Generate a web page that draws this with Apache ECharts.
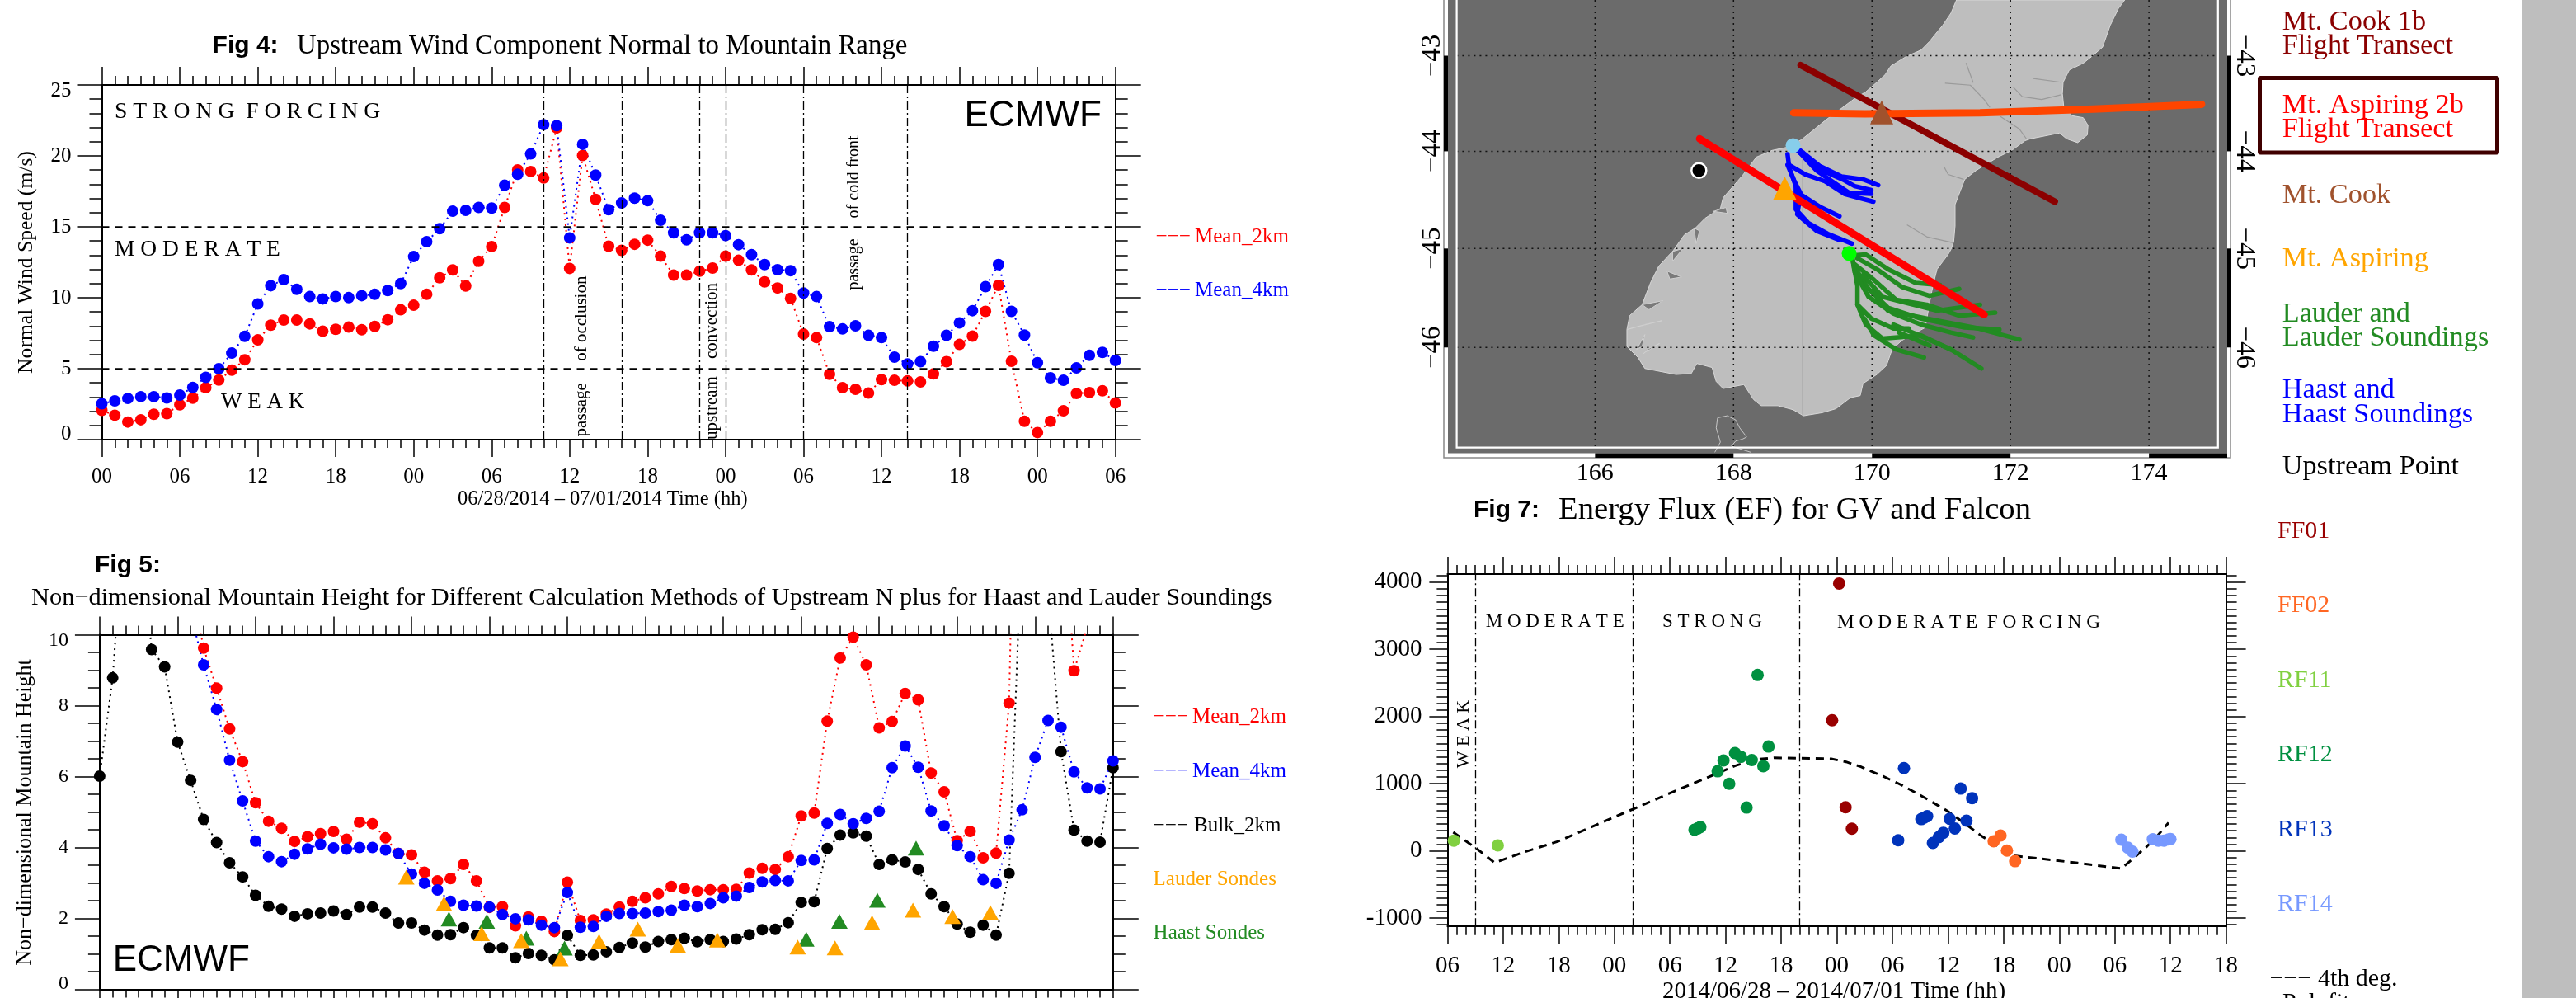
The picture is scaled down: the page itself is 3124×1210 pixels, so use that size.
<!DOCTYPE html>
<html><head><meta charset="utf-8">
<style>html,body{margin:0;padding:0;background:#fff}#c{width:3124px;height:1210px}</style>
<script src="https://cdn.jsdelivr.net/npm/echarts@6/dist/echarts.min.js"></script>
</head><body><div id="c"></div>
<script>
const hourLabels4=['00','06','12','18','00','06','12','18','00','06','12','18','00','06'];
const hourLabels7=['06','12','18','00','06','12','18','00','06','12','18','00','06','12','18'];
const windMean2km=[2.06,1.72,1.24,1.4,1.79,1.83,2.46,2.92,3.66,4.2,4.9,5.63,7.03,8.07,8.43,8.43,8.16,7.64,7.78,7.93,7.75,7.98,8.45,9.15,9.47,10.24,11.41,11.96,10.83,12.57,13.61,16.37,19.01,18.9,18.44,21.97,12.07,20.03,16.93,13.63,13.34,13.77,14.06,12.93,11.6,11.6,11.87,12.09,12.93,12.64,11.96,11.12,10.69,9.95,7.44,7.19,4.61,3.66,3.55,3.28,4.23,4.18,4.14,4.07,4.63,5.49,6.71,7.3,9.04,10.87,5.52,1.29,0.5,1.29,2.03,3.25,3.32,3.44,2.58];
const windMean4km=[2.53,2.73,2.9,3.03,3.03,2.94,3.14,3.68,4.39,5.0,6.1,7.28,9.56,10.85,11.28,10.6,10.08,9.92,10.08,10.01,10.15,10.24,10.51,11.0,12.9,13.95,14.87,16.1,16.16,16.37,16.32,17.93,18.7,20.14,22.2,22.13,14.22,20.82,18.65,16.2,16.68,17.02,16.84,15.46,14.58,14.08,14.58,14.58,14.38,13.74,13.04,12.34,11.98,11.91,10.33,10.08,7.96,7.8,8.02,7.35,7.19,5.81,5.33,5.49,6.58,7.35,8.23,9.09,10.78,12.34,9.04,7.37,5.42,4.36,4.18,5.06,5.94,6.15,5.58];
const forcingLevels4=[15,5];
const events4=[34,40,46,48,54,62];
const hmMean2km=[null,null,null,null,null,null,null,11.5,9.62,8.49,7.34,6.42,5.26,4.74,4.54,4.17,4.3,4.39,4.45,4.23,4.71,4.67,4.27,3.83,3.79,3.3,3.06,3.12,3.52,3.06,2.31,2.33,1.79,2.04,1.92,1.63,3.02,1.94,1.96,2.12,2.32,2.48,2.58,2.69,2.9,2.84,2.77,2.81,2.81,2.82,3.28,3.41,3.38,3.74,4.89,4.97,7.56,9.34,9.93,9.15,7.37,7.55,8.34,8.16,6.1,5.57,4.19,4.45,3.71,3.84,8.07,25,null,null,14.6,8.98,10.2,11,12];
const hmMean4km=[null,null,null,null,null,null,null,10.6,9.15,7.89,6.46,5.31,4.18,3.74,3.6,3.81,3.96,4.09,3.99,3.95,4.0,4.0,3.93,3.83,3.25,2.99,2.8,2.48,2.37,2.35,2.32,2.11,1.99,1.96,1.81,1.74,2.73,1.75,1.77,2.06,2.14,2.14,2.15,2.19,2.23,2.37,2.33,2.42,2.58,2.63,2.87,3.03,3.07,3.06,3.63,3.65,4.68,4.93,4.67,4.82,5.02,6.25,6.86,6.26,5.03,4.61,4.05,3.74,3.09,2.99,4.21,5.06,6.54,7.58,7.39,6.13,5.68,5.65,6.44];
const hmBulk2km=[6.01,8.78,14,13.2,9.58,9.09,6.97,5.89,4.79,4.14,3.57,3.17,2.65,2.34,2.26,2.06,2.13,2.15,2.21,2.11,2.32,2.32,2.15,1.87,1.87,1.67,1.53,1.54,1.74,1.52,1.17,1.17,0.89,1.01,0.96,0.83,1.52,0.96,0.97,1.06,1.18,1.31,1.19,1.35,1.4,1.44,1.34,1.4,1.35,1.42,1.54,1.68,1.69,1.88,2.45,2.47,3.97,4.35,4.41,4.32,3.52,3.65,3.59,3.38,2.69,2.33,1.84,1.61,1.81,1.53,3.27,13,null,11.2,6.7,4.49,4.18,4.15,6.25];
const lauderSondes=[[23.6,3.16],[26.5,2.41],[29.4,1.57],[32.45,1.37],[35.46,.86],[38.44,1.35],[41.42,1.7],[44.5,1.24],[47.54,1.39],[53.73,1.19],[56.6,1.17],[59.45,1.88],[62.6,2.23],[65.65,2.05],[68.56,2.16]];
const haastSondes=[[26.88,1.98],[29.8,1.92],[32.84,1.44],[35.78,1.16],[54.39,1.41],[56.94,1.92],[59.86,2.51],[62.84,3.98]];
const rf11=[[.69,153],[5.43,81]];
const rf12=[[26.65,315],[27.0,335],[27.28,354],[29.15,1185],[29.78,1347],[30.4,999],[31.02,1457],[31.65,1400],[32.27,645],[32.83,1352],[33.46,2618],[34.08,1261],[34.64,1553]];
const ff01=[[41.5,1945],[42.26,3980],[42.95,650],[43.63,330]];
const rf13=[[48.63,158],[49.25,1233],[51.12,473],[51.45,495],[51.75,516],[52.37,119],[53,205],[53.5,268],[54.18,478],[54.74,334],[55.37,927],[56,449],[56.6,784]];
const ff02=[[58.93,143],[59.67,229],[60.36,5],[61.24,-153]];
const rf14=[[72.7,167],[73.4,48],[73.9,-10],[76.1,172],[76.7,153],[77.3,153],[77.8,170],[78,177]];
const polyfit=[[.62,277],[3,50],[5.1,-177],[8,-30],[12,145],[16,385],[20,621],[24,860],[29,1146],[31,1265],[33.3,1362],[35.2,1385],[38,1380],[41.4,1371],[43,1325],[44.6,1252],[47,1110],[49,980],[51.5,790],[53.9,597],[55.8,410],[57.7,215],[59.5,60],[61.1,-72],[64,-115],[68,-180],[72.7,-263],[74,-110],[75.5,72],[76.7,240],[77.8,420]];
const events7=[3,20,38];
const coastline=[[171.22,-42.41],[171.14,-42.55],[171.02,-42.68],[170.94,-42.75],[170.83,-42.85],[170.71,-42.94],[170.49,-43.01],[170.27,-43.11],[170.19,-43.2],[170.07,-43.28],[169.91,-43.38],[169.75,-43.45],[169.34,-43.67],[168.98,-43.88],[168.76,-43.96],[168.56,-43.99],[168.33,-44.06],[168.13,-44.25],[167.85,-44.48],[167.81,-44.59],[167.59,-44.69],[167.45,-44.79],[167.29,-44.86],[167.13,-45.02],[166.92,-45.18],[166.8,-45.35],[166.68,-45.57],[166.5,-45.68],[166.46,-45.82],[166.46,-45.99],[166.62,-46.1],[166.72,-46.21],[167.17,-46.27],[167.39,-46.26],[167.47,-46.16],[167.69,-46.2],[167.75,-46.34],[167.85,-46.41],[168.15,-46.37],[168.29,-46.52],[168.4,-46.58],[168.64,-46.58],[168.86,-46.62],[169.01,-46.68],[169.28,-46.65],[169.48,-46.61],[169.69,-46.5],[169.83,-46.48],[169.87,-46.36],[170.07,-46.27],[170.21,-46.18],[170.29,-46.02],[170.43,-45.93],[170.77,-45.8],[170.85,-45.48],[170.9,-45.32],[170.94,-45.21],[171.1,-45.06],[171.14,-45.01],[171.18,-44.93],[171.2,-44.77],[171.2,-44.55],[171.28,-44.4],[171.34,-44.29],[171.5,-44.2],[171.66,-44.13],[171.82,-44.06],[172.02,-43.99],[172.21,-43.89],[172.29,-43.87],[172.71,-43.81],[172.81,-43.87],[172.97,-43.91],[173.11,-43.83],[173.12,-43.73],[173.05,-43.65],[172.89,-43.63],[172.77,-43.54],[172.75,-43.4],[172.76,-43.28],[172.85,-43.15],[173.05,-43.08],[173.17,-43.01],[173.33,-42.91],[173.44,-42.68],[173.56,-42.5],[173.65,-42.41]];
const stewartIsland=[[167.73,-47.04],[167.81,-46.94],[167.75,-46.8],[167.77,-46.7],[167.91,-46.68],[168.03,-46.72],[168.09,-46.8],[168.19,-46.89],[168.13,-46.91],[168.03,-46.93],[167.97,-46.98],[168.25,-47.04]];
const fjords=[[[166.46,-45.82],[166.97,-45.73],[166.72,-45.77]],[[166.68,-45.57],[166.98,-45.53],[166.78,-45.62]],[[167.04,-45.23],[167.25,-45.29],[167.08,-45.31]],[[167.43,-44.79],[167.46,-44.95],[167.51,-44.82]],[[166.72,-45.87],[166.6,-46.02],[166.68,-45.99]],[[166.93,-45.96],[166.7,-46.06],[166.78,-46.01]],[[167.12,-45.03],[167.27,-45],[167.12,-45.13]],[[167.71,-44.62],[167.89,-44.58],[167.91,-44.64]]];
const landDetails=[[[171.06,-43.29],[171.42,-43.31],[171.62,-43.46],[171.7,-43.54]],[[171.86,-43.64],[172.13,-43.77],[172.23,-43.87]],[[172.04,-43.33],[172.17,-43.43],[172.45,-43.46],[172.73,-43.41]],[[172.33,-43.24],[172.73,-43.28]],[[171.36,-43.08],[171.46,-43.28]],[[170.51,-44.76],[170.79,-44.88],[171.16,-44.94]],[[171.04,-44.16],[171.1,-44.24],[171.32,-44.29]],[[169,-44.03],[169,-46.67]]];
const haastTracks=[[[168.96,-43.99],[169.24,-44.15],[169.56,-44.26],[169.87,-44.29],[170.09,-44.35]],[[168.92,-43.99],[169.28,-44.2],[169.6,-44.3],[169.75,-44.36],[169.99,-44.4]],[[168.94,-44],[169.2,-44.2],[169.4,-44.3],[169.67,-44.43],[169.99,-44.44]],[[168.78,-44.03],[168.8,-44.14],[169.04,-44.24],[169.32,-44.31],[169.6,-44.44],[169.75,-44.47],[170.02,-44.52]],[[168.78,-44.14],[168.88,-44.31],[168.98,-44.45],[169.24,-44.57],[169.53,-44.67]],[[168.9,-44.34],[168.9,-44.6],[169.08,-44.74],[169.36,-44.85],[169.71,-44.95]],[[168.82,-44.2],[168.96,-44.48],[168.92,-44.65],[169.2,-44.82],[169.52,-44.91]]];
const lauderTracks=[[[169.71,-45.07],[169.91,-45.06],[170.23,-45.21],[170.63,-45.35],[170.98,-45.37]],[[169.79,-45.1],[170.07,-45.21],[170.43,-45.39],[170.83,-45.48],[171.26,-45.41]],[[169.75,-45.16],[170.03,-45.32],[170.35,-45.52],[170.79,-45.57],[171.26,-45.68],[171.78,-45.65]],[[169.75,-45.19],[169.95,-45.41],[170.23,-45.6],[170.71,-45.71],[171.34,-45.8],[171.84,-45.82]],[[169.71,-45.07],[169.75,-45.24],[169.95,-45.49],[170.31,-45.66],[170.71,-45.77],[171.14,-45.85],[171.46,-45.9]],[[169.87,-45.27],[170.15,-45.49],[170.55,-45.56],[170.94,-45.63],[171.56,-45.57]],[[170,-45.43],[170.23,-45.63],[170.79,-45.71],[171.54,-45.81],[172.13,-45.92]],[[169.71,-45.07],[169.79,-45.38],[169.79,-45.57],[169.99,-45.71],[170.31,-45.81],[170.53,-45.81]],[[169.79,-45.57],[169.91,-45.77],[170.15,-45.91],[170.71,-45.88],[171.14,-46.02]],[[169.89,-45.71],[170.03,-45.88],[170.35,-46.02],[170.75,-46.1]],[[170.31,-45.77],[170.79,-45.91],[171.14,-46.02],[171.58,-46.21]],[[170.39,-45.85],[170.83,-45.98]]];
const cookTransect=[[168.97,-43.10],[172.64,-44.52]];
const aspiringTransect=[[167.51,-43.87],[171.62,-45.67]];
const orangeTransect=[[168.87,-43.60],[169.9,-43.61],[171.56,-43.60],[173.2,-43.56],[174.76,-43.51]];
const mtCook=[170.14,-43.595], mtAspiring=[168.74,-44.38], haastSite=[168.86,-43.94], lauderSite=[169.67,-45.05], upstreamPoint=[167.5,-44.2];
const lonTicks=[166,168,170,172,174], latTicks=[-43,-44,-45,-46];
const lonBars=[[166,168],[170,172],[174,175.13]], latBars=[[-43,-44],[-45,-46]];
const ef7Major=[-1000,0,1000,2000,3000,4000];

const SERIF='"Liberation Serif"', SANS='"Liberation Sans"';
const merc=d=>Math.log(Math.tan(Math.PI/4+d*Math.PI/360));
const my=lat=>-merc(-lat);
const LON_MIN=163.876,LON_MAX=175.13,LAT_TOP=-42.41,LAT_BOT=-47.05;
const ef7Minor=[];for(let v=-1100;v<=4100;v+=100)if(v%1000)ef7Minor.push(v);
const black={color:'#000',width:1.5};
const ax=(g,pos,min,max,extra)=>Object.assign({type:'value',gridIndex:g,position:pos,min,max,splitLine:{show:false},
 axisLine:{show:true,onZero:false,lineStyle:{color:'#000',width:2}},axisLabel:{show:false}},extra);
const ticks=(interval,split,major,minor)=>({interval,axisTick:{show:true,length:major,lineStyle:black},
 minorTick:{show:true,splitNumber:split,length:minor,lineStyle:black}});
const hourLab=(arr,size,margin)=>({show:true,margin,color:'#000',fontFamily:SERIF,fontSize:size,
 formatter:v=>arr[Math.round(v/6)]});
const yLab=(size,margin)=>({show:true,margin,color:'#000',fontFamily:SERIF,fontSize:size,lineHeight:14,verticalAlignMinLabel:'bottom',verticalAlignMaxLabel:'top'});

const grid=[
 {left:123.5,top:103,width:1229.2,height:430},
 {left:120.9,top:769.4,width:1228.9,height:430.1},
 {left:1756,top:0,width:945,height:549.6,show:true,backgroundColor:'#6B6B6B',borderWidth:0},
 {left:1755.4,top:696,width:944.2,height:427.2}
];
const xAxis=[
 ax(0,'bottom',0,78,{...ticks(6,6,21,10),axisLabel:hourLab(hourLabels4,25,33)}),
 ax(0,'top',0,78,ticks(6,6,22,11)),
 ax(1,'bottom',0,78,ticks(6,6,21,10)),
 ax(1,'top',0,78,ticks(6,6,22,11)),
 ax(2,'bottom',LON_MIN,LON_MAX,{axisLine:{show:false},axisTick:{show:false,customValues:lonTicks},
   axisLabel:{show:true,customValues:lonTicks,margin:10,color:'#000',fontFamily:SERIF,fontSize:30}}),
 ax(3,'bottom',0,84,{...ticks(6,6,21,10.5),axisLabel:hourLab(hourLabels7,29,34)}),
 ax(3,'top',0,84,ticks(6,6,21,11))
];
const latFmt=v=>{const i=latTicks.findIndex(l=>Math.abs(my(l)-v)<1e-6);return i<0?'':'\u2212'+(-latTicks[i]);};
const efLabels=ef7Major;
const yAxis=[
 ax(0,'left',0,25,{...ticks(5,5,30,15),axisLabel:yLab(25,37)}),
 ax(0,'right',0,25,ticks(5,5,31,15)),
 ax(1,'left',0,10,{...ticks(2,4,30,14),axisLabel:yLab(24,38)}),
 ax(1,'right',0,10,ticks(2,4,31,15)),
 ax(2,'left',my(LAT_BOT),my(LAT_TOP),{axisLine:{show:false},axisTick:{show:false,customValues:latTicks.map(my)},
   axisLabel:{show:true,customValues:latTicks.map(my),rotate:90,margin:2,color:'#000',fontFamily:SERIF,fontSize:33,formatter:latFmt}}),
 ax(2,'right',my(LAT_BOT),my(LAT_TOP),{axisLine:{show:false},axisTick:{show:false,customValues:latTicks.map(my)},
   axisLabel:{show:true,customValues:latTicks.map(my),rotate:-90,margin:4,color:'#000',fontFamily:SERIF,fontSize:33,formatter:latFmt}}),
 ax(3,'left',-1124,4120,{axisTick:{show:true,length:13,lineStyle:black,customValues:ef7Minor},
   axisLabel:{show:true,customValues:efLabels,margin:31,color:'#000',fontFamily:SERIF,fontSize:29,formatter:v=>String(v)}}),
 ax(3,'left',-1124,4120,{axisTick:{show:true,length:22,lineStyle:black,customValues:ef7Major}}),
 ax(3,'right',-1124,4120,{axisTick:{show:true,length:13,lineStyle:black,customValues:ef7Minor}}),
 ax(3,'right',-1124,4120,{axisTick:{show:true,length:24,lineStyle:black,customValues:ef7Major}})
];
const hourly=arr=>arr.map((v,i)=>[i,v]);
const dotted=(name,arr,color,xi,yi,size=14)=>({type:'line',name,xAxisIndex:xi,yAxisIndex:yi,data:hourly(arr),clip:true,
 symbol:'circle',symbolSize:size,showAllSymbol:true,itemStyle:{color},lineStyle:{color,width:2,type:[2,5]},connectNulls:false,z:3});
const scatter=(name,arr,color,size=15,xi=5,yi=6)=>({type:'scatter',name,xAxisIndex:xi,yAxisIndex:yi,data:arr,symbol:'circle',symbolSize:size,itemStyle:{color,opacity:1},z:5});
const vlines=(values,xi,yi)=>({type:'line',xAxisIndex:xi,yAxisIndex:yi,data:[],silent:true,markLine:{silent:true,symbol:'none',animation:false,label:{show:false},
 lineStyle:{color:'#000',width:1.3,type:[10,4,2,4]},data:values.map(v=>({xAxis:v}))},z:2});
const mapLine=(pts,color,width,z=4,extra={})=>({type:'line',xAxisIndex:4,yAxisIndex:4,data:pts.map(p=>[p[0],my(p[1])]),symbol:'none',clip:true,z,
 lineStyle:Object.assign({color,width,cap:'round',join:'round'},extra)});
const mapMark=(p,symbol,size,color,z=9,border)=>({type:'scatter',xAxisIndex:4,yAxisIndex:4,data:[[p[0],my(p[1])]],symbol,symbolSize:size,z,
 itemStyle:Object.assign({color,opacity:1},border?{borderColor:border,borderWidth:2.5}:{})});
const polygon=(pts,fill,stroke,z,closed=true)=>({type:'custom',xAxisIndex:4,yAxisIndex:4,data:[[pts[0][0],my(pts[0][1])]],z,silent:true,clip:true,
 renderItem:(p,api)=>({type:closed?'polygon':'polyline',shape:{points:pts.map(q=>api.coord([q[0],my(q[1])]))},style:{fill,stroke,lineWidth:1}})});
const barsX=()=>({type:'custom',xAxisIndex:4,yAxisIndex:4,silent:true,clip:false,z:6,data:lonBars,
 renderItem:(p,api)=>{const a=api.coord([api.value(0),my(LAT_BOT)]),b=api.coord([api.value(1),my(LAT_BOT)]);
  return {type:'rect',shape:{x:a[0],y:a[1],width:b[0]-a[0],height:5.4},style:{fill:'#000'}};},
 encode:{x:[0,1]}});
const barsY=()=>({type:'custom',xAxisIndex:4,yAxisIndex:4,silent:true,clip:false,z:6,data:latBars.map(b=>[my(b[0]),my(b[1])]),
 renderItem:(p,api)=>{const xl=api.coord([LON_MIN,api.value(0)]),yb=api.coord([LON_MIN,api.value(1)]),xr=api.coord([LON_MAX,api.value(0)]);
  return {type:'group',children:[
   {type:'rect',shape:{x:xl[0]-5,y:xl[1],width:5,height:yb[1]-xl[1]},style:{fill:'#000'}},
   {type:'rect',shape:{x:xr[0],y:xr[1],width:5,height:yb[1]-xl[1]},style:{fill:'#000'}}]};},
 encode:{y:[0,1]}});
const series=[
 // Fig 4
 {type:'line',xAxisIndex:0,yAxisIndex:0,data:[],silent:true,z:2,markLine:{silent:true,symbol:'none',animation:false,label:{show:false},
  lineStyle:{color:'#000',width:2.5,type:[9,7]},data:forcingLevels4.map(v=>({yAxis:v}))}},
 vlines(events4,0,0),
 dotted('Mean_2km',windMean2km,'#FF0000',0,0),
 dotted('Mean_4km',windMean4km,'#0000FF',0,0),
 // Fig 5
 dotted('Bulk_2km',hmBulk2km,'#000000',2,2),
 dotted('Mean_2km',hmMean2km,'#FF0000',2,2),
 dotted('Mean_4km',hmMean4km,'#0000FF',2,2),
 {type:'scatter',name:'Haast Sondes',xAxisIndex:2,yAxisIndex:2,data:haastSondes,symbol:'triangle',symbolSize:[20,18],itemStyle:{color:'#228B22',opacity:1},z:6},
 {type:'scatter',name:'Lauder Sondes',xAxisIndex:2,yAxisIndex:2,data:lauderSondes,symbol:'triangle',symbolSize:[20,18],itemStyle:{color:'#FFA500',opacity:1},z:7},
 // Map
 polygon(coastline,'#BEBEBE','#D8D8D8',2),
 polygon(stewartIsland,'none','#C8C8C8',2,false),
 ...fjords.map(f=>polygon(f,'#7A7A7A','#D0D0D0',3)),
 ...landDetails.map(d=>mapLine(d,'#9A9A9A',1.2,3)),
 ...haastTracks.map(t=>mapLine(t,'#0000FF',5.5,4)),
 ...lauderTracks.map(t=>mapLine(t,'#228B22',5.5,4)),
 mapLine(aspiringTransect,'#FF0000',9,5),
 mapLine(cookTransect,'#8B0000',8,5),
 mapLine(orangeTransect,'#FF4500',9,6),
 mapMark(mtCook,'triangle',[28,29],'#A0522D'),
 mapMark(mtAspiring,'triangle',[28,28],'#FFA500'),
 mapMark(haastSite,'circle',18,'#87CEEB'),
 mapMark(lauderSite,'circle',18,'#00FF00'),
 mapMark(upstreamPoint,'circle',18,'#000000',9,'#FFFFFF'),
 barsX(),barsY(),
 // Fig 7
 vlines(events7,5,6),
 {type:'line',name:'4th deg. Polyfit',xAxisIndex:5,yAxisIndex:6,data:polyfit,symbol:'none',z:3,lineStyle:{color:'#000',width:3,type:[10,7]}},
 scatter('RF11',rf11,'#80D040'),
 scatter('RF12',rf12,'#009040'),
 scatter('FF01',ff01,'#990000'),
 scatter('RF13',rf13,'#0033BB'),
 scatter('FF02',ff02,'#FF6622'),
 scatter('RF14',rf14,'#7799FF')
];
const T=(x,y,text,size,fill='#000',o={})=>({type:'text',x,y,rotation:o.rot||0,z:50,silent:true,
 style:{text,fill,font:`${o.bold?'bold ':''}${size}px ${o.font||SERIF}`,textAlign:o.align||'left',textVerticalAlign:'middle'}});
const graphic=[
 {type:'rect',z:0,silent:true,shape:{x:3058,y:0,width:66,height:1210},style:{fill:'#BEBEBE'}},
 {type:'rect',z:1,silent:true,shape:{x:1751,y:-10,width:954,height:565},style:{fill:'none',stroke:'#888',lineWidth:1.5}},
 {type:'rect',z:20,silent:true,shape:{x:1766.6,y:-10,width:923.2,height:552.7},style:{fill:'none',stroke:'#fff',lineWidth:2.2}},
 {type:'rect',z:20,silent:true,shape:{x:2740.5,y:94.5,width:288,height:90.5,r:1},style:{fill:'none',stroke:'#400000',lineWidth:5}},
 // Fig 4
 T(257.6,56,'Fig 4:',30,'#000',{bold:true,font:SANS}),
 T(360,56,'Upstream Wind Component Normal to Mountain Range',32.9),
 T(139,136,'S T R O N G  F O R C I N G',27.7),
 T(139,303,'M O D E R A T E',27.5),
 T(268,488,'W E A K',27),
 T(1169.6,140.6,'ECMWF',44,'#000',{font:SANS}),
 T(705.6,432,'passage     of occlusion',21,'#000',{rot:Math.PI/2,align:'center'}),
 T(863.6,438,'upstream    convection',21,'#000',{rot:Math.PI/2,align:'center'}),
 T(1035.8,258,'passage     of cold front',20,'#000',{rot:Math.PI/2,align:'center'}),
 T(32,318,'Normal Wind Speed (m/s)',25.6,'#000',{rot:Math.PI/2,align:'center'}),
 T(555,605.6,'06/28/2014 \u2013 07/01/2014 Time (hh)',24.5),
 T(1401.5,287,'\u2212\u2212\u2212',25,'#FF0000'),T(1449,287,'Mean_2km',25,'#FF0000'),
 T(1401.5,352.7,'\u2212\u2212\u2212',25,'#0000FF'),T(1449,352.7,'Mean_4km',25,'#0000FF'),
 // Fig 5
 T(115,686,'Fig 5:',30,'#000',{bold:true,font:SANS}),
 T(38,725,'Non\u2212dimensional Mountain Height for Different Calculation Methods of Upstream N plus for Haast and Lauder Soundings',30.4),
 T(30.6,985,'Non\u2212dimensional Mountain Height',26,'#000',{rot:Math.PI/2,align:'center'}),
 T(136.7,1165,'ECMWF',44,'#000',{font:SANS}),
 T(1398.6,869.4,'\u2212\u2212\u2212',25,'#FF0000'),T(1446,869.4,'Mean_2km',25,'#FF0000'),
 T(1398.6,935,'\u2212\u2212\u2212',25,'#0000FF'),T(1446,935,'Mean_4km',25,'#0000FF'),
 T(1398.6,1001,'\u2212\u2212\u2212',25,'#000'),T(1448,1001,'Bulk_2km',25,'#000'),
 T(1398.6,1066,'Lauder Sondes',25,'#FFA500'),
 T(1398.6,1131.8,'Haast Sondes',25,'#228B22'),
 // Fig 7
 T(1787,618.7,'Fig 7:',30,'#000',{bold:true,font:SANS}),
 T(1890,618.7,'Energy Flux (EF) for GV and Falcon',38.7),
 T(1801.7,754.4,'M O D E R A T E',23),
 T(2016,754.4,'S T R O N G',23),
 T(2228,754.4,'M O D E R A T E  F O R C I N G',23.3),
 T(1775.7,890,'W E A K',22,'#000',{rot:Math.PI/2,align:'center'}),
 T(2016,1202,'2014/06/28 \u2013 2014/07/01 Time (hh)',29),
 // Map legend
 T(2767.7,26.8,'Mt. Cook 1b',34.3,'#8B0000'),T(2767.7,55.5,'Flight Transect',34.3,'#8B0000'),
 T(2767.7,128,'Mt. Aspiring 2b',34.3,'#FF0000'),T(2767.7,157,'Flight Transect',34.3,'#FF0000'),
 T(2767.7,236.5,'Mt. Cook',34.3,'#A0522D'),
 T(2767.7,313.8,'Mt. Aspiring',34.3,'#FFA500'),
 T(2767.7,380.8,'Lauder and',34.3,'#228B22'),T(2767.7,409.5,'Lauder Soundings',34.3,'#228B22'),
 T(2767.7,472.6,'Haast and',34.3,'#0000FF'),T(2767.7,502.5,'Haast Soundings',34.3,'#0000FF'),
 T(2767.7,566.4,'Upstream Point',34.3,'#000'),
 // Flight legend
 T(2762,644,'FF01',30,'#990000'),T(2762,734,'FF02',30,'#FF6622'),T(2762,825,'RF11',30,'#80D040'),
 T(2762,915,'RF12',30,'#009040'),T(2762,1006,'RF13',30,'#0033BB'),T(2762,1096,'RF14',30,'#7799FF'),
 T(2752.7,1187.5,'\u2212\u2212\u2212 4th deg.',30),T(2768,1216,'Polyfit',30)
];
lonTicks.forEach(l=>series.push(mapLine([[l,LAT_TOP],[l,-46.98]],'#111',1.5,3,{type:[2,5],cap:'butt'})));
latTicks.forEach(l=>series.push(mapLine([[164.0,l],[175.0,l]],'#111',1.5,3,{type:[2,5],cap:'butt'})));
const chart=echarts.init(document.getElementById('c'),null,{renderer:'canvas',width:3124,height:1210});
chart.setOption({animation:false,backgroundColor:'#fff',grid,xAxis,yAxis,series,graphic});
</script></body></html>
